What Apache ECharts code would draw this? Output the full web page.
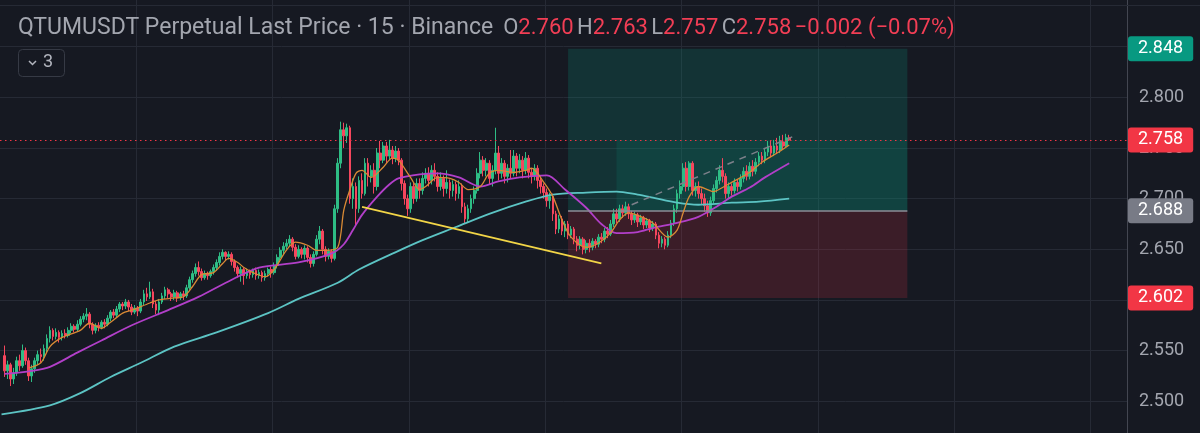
<!DOCTYPE html>
<html>
<head>
<meta charset="utf-8">
<script src="https://cdn.jsdelivr.net/npm/echarts@6/dist/echarts.min.js"></script>
<style>
  html, body { margin: 0; padding: 0; background: #161922; }
  #chart { width: 1200px; height: 433px; }
</style>
</head>
<body>
<div id="chart"></div>
<script>
// 15m candles, [open, close, low, high], first one sits in slot 1
const ohlc = [
  [2.545, 2.530, 2.524, 2.555], [2.530, 2.536, 2.522, 2.540], [2.536, 2.522, 2.515, 2.538], [2.522, 2.528, 2.517, 2.533],
  [2.528, 2.540, 2.525, 2.544], [2.540, 2.535, 2.530, 2.546], [2.535, 2.550, 2.533, 2.556], [2.550, 2.540, 2.536, 2.553],
  [2.540, 2.525, 2.520, 2.543], [2.525, 2.532, 2.519, 2.536], [2.532, 2.540, 2.528, 2.543], [2.540, 2.546, 2.536, 2.550],
  [2.546, 2.544, 2.538, 2.552], [2.544, 2.552, 2.540, 2.556], [2.552, 2.562, 2.548, 2.566], [2.562, 2.570, 2.558, 2.574],
  [2.570, 2.564, 2.560, 2.572], [2.564, 2.568, 2.561, 2.572], [2.568, 2.563, 2.558, 2.570], [2.563, 2.567, 2.560, 2.570],
  [2.567, 2.565, 2.562, 2.571], [2.565, 2.570, 2.563, 2.573], [2.570, 2.574, 2.567, 2.577], [2.574, 2.571, 2.568, 2.576],
  [2.571, 2.576, 2.569, 2.580], [2.576, 2.581, 2.574, 2.584], [2.581, 2.584, 2.578, 2.587], [2.584, 2.586, 2.580, 2.592],
  [2.586, 2.576, 2.572, 2.588], [2.576, 2.570, 2.566, 2.578], [2.570, 2.575, 2.567, 2.577], [2.575, 2.573, 2.569, 2.578],
  [2.573, 2.578, 2.571, 2.580], [2.578, 2.576, 2.572, 2.581], [2.576, 2.582, 2.574, 2.585], [2.582, 2.588, 2.579, 2.590],
  [2.588, 2.585, 2.582, 2.591], [2.585, 2.591, 2.583, 2.594], [2.591, 2.596, 2.588, 2.598], [2.596, 2.594, 2.590, 2.598],
  [2.594, 2.598, 2.591, 2.601], [2.598, 2.593, 2.589, 2.600], [2.593, 2.588, 2.585, 2.596], [2.588, 2.592, 2.586, 2.595],
  [2.592, 2.589, 2.584, 2.594], [2.589, 2.598, 2.587, 2.601], [2.598, 2.606, 2.595, 2.610], [2.606, 2.603, 2.599, 2.612],
  [2.603, 2.608, 2.601, 2.618], [2.608, 2.596, 2.592, 2.611], [2.596, 2.590, 2.586, 2.599], [2.590, 2.598, 2.585, 2.601],
  [2.598, 2.604, 2.596, 2.607], [2.604, 2.610, 2.601, 2.613], [2.610, 2.606, 2.602, 2.612], [2.606, 2.603, 2.599, 2.608],
  [2.603, 2.607, 2.600, 2.610], [2.607, 2.602, 2.598, 2.609], [2.602, 2.606, 2.600, 2.608], [2.606, 2.604, 2.600, 2.609],
  [2.604, 2.612, 2.602, 2.615], [2.612, 2.620, 2.610, 2.623], [2.620, 2.626, 2.617, 2.629], [2.626, 2.632, 2.623, 2.636],
  [2.632, 2.628, 2.624, 2.638], [2.628, 2.622, 2.619, 2.631], [2.622, 2.626, 2.620, 2.629], [2.626, 2.624, 2.620, 2.628],
  [2.624, 2.628, 2.622, 2.630], [2.628, 2.632, 2.625, 2.635], [2.632, 2.637, 2.629, 2.640], [2.637, 2.643, 2.634, 2.647],
  [2.643, 2.647, 2.640, 2.650], [2.647, 2.643, 2.639, 2.648], [2.643, 2.645, 2.640, 2.648], [2.645, 2.638, 2.634, 2.647],
  [2.638, 2.632, 2.628, 2.640], [2.632, 2.626, 2.622, 2.634], [2.626, 2.630, 2.618, 2.633], [2.630, 2.624, 2.615, 2.632],
  [2.624, 2.628, 2.621, 2.631], [2.628, 2.625, 2.621, 2.630], [2.625, 2.629, 2.622, 2.631], [2.629, 2.624, 2.620, 2.632],
  [2.624, 2.627, 2.621, 2.630], [2.627, 2.622, 2.618, 2.629], [2.622, 2.626, 2.619, 2.629], [2.626, 2.630, 2.623, 2.632],
  [2.630, 2.627, 2.622, 2.633], [2.627, 2.634, 2.625, 2.637], [2.634, 2.642, 2.631, 2.645], [2.642, 2.649, 2.639, 2.652],
  [2.649, 2.653, 2.645, 2.657], [2.653, 2.656, 2.650, 2.660], [2.656, 2.660, 2.653, 2.664], [2.660, 2.652, 2.648, 2.662],
  [2.652, 2.643, 2.640, 2.655], [2.643, 2.650, 2.641, 2.654], [2.650, 2.645, 2.641, 2.652], [2.645, 2.651, 2.640, 2.654],
  [2.651, 2.642, 2.637, 2.653], [2.642, 2.636, 2.632, 2.645], [2.636, 2.645, 2.633, 2.648], [2.645, 2.660, 2.643, 2.664],
  [2.660, 2.668, 2.655, 2.673], [2.668, 2.650, 2.645, 2.670], [2.650, 2.643, 2.638, 2.653], [2.643, 2.648, 2.640, 2.651],
  [2.648, 2.641, 2.637, 2.650], [2.641, 2.690, 2.639, 2.694], [2.690, 2.735, 2.686, 2.740], [2.735, 2.768, 2.730, 2.776],
  [2.768, 2.762, 2.750, 2.775], [2.762, 2.770, 2.755, 2.774], [2.770, 2.700, 2.695, 2.772], [2.700, 2.712, 2.690, 2.720],
  [2.712, 2.690, 2.674, 2.716], [2.690, 2.718, 2.686, 2.722], [2.718, 2.705, 2.700, 2.725], [2.705, 2.735, 2.703, 2.740],
  [2.735, 2.722, 2.712, 2.740], [2.722, 2.728, 2.716, 2.733], [2.728, 2.712, 2.705, 2.735], [2.712, 2.745, 2.708, 2.750],
  [2.745, 2.738, 2.730, 2.757], [2.738, 2.752, 2.735, 2.756], [2.752, 2.742, 2.735, 2.756], [2.742, 2.748, 2.738, 2.758],
  [2.748, 2.740, 2.734, 2.752], [2.740, 2.747, 2.736, 2.752], [2.747, 2.738, 2.733, 2.750], [2.738, 2.715, 2.708, 2.740],
  [2.715, 2.700, 2.694, 2.718], [2.700, 2.690, 2.683, 2.704], [2.690, 2.712, 2.686, 2.716], [2.712, 2.700, 2.695, 2.716],
  [2.700, 2.715, 2.697, 2.720], [2.715, 2.708, 2.700, 2.720], [2.708, 2.720, 2.704, 2.726], [2.720, 2.725, 2.715, 2.730],
  [2.725, 2.718, 2.712, 2.731], [2.718, 2.728, 2.714, 2.733], [2.728, 2.722, 2.717, 2.735], [2.722, 2.712, 2.707, 2.726],
  [2.712, 2.720, 2.708, 2.726], [2.720, 2.710, 2.702, 2.723], [2.710, 2.716, 2.705, 2.728], [2.716, 2.708, 2.700, 2.719],
  [2.708, 2.714, 2.702, 2.718], [2.714, 2.705, 2.698, 2.717], [2.705, 2.712, 2.700, 2.718], [2.712, 2.692, 2.686, 2.715],
  [2.692, 2.680, 2.676, 2.696], [2.680, 2.690, 2.676, 2.694], [2.690, 2.700, 2.686, 2.704], [2.700, 2.708, 2.695, 2.712],
  [2.708, 2.725, 2.705, 2.730], [2.725, 2.738, 2.720, 2.746], [2.738, 2.728, 2.722, 2.742], [2.728, 2.735, 2.722, 2.740],
  [2.735, 2.720, 2.714, 2.738], [2.720, 2.728, 2.712, 2.733], [2.728, 2.745, 2.724, 2.770], [2.745, 2.725, 2.718, 2.752],
  [2.725, 2.735, 2.720, 2.740], [2.735, 2.722, 2.715, 2.738], [2.722, 2.730, 2.716, 2.734], [2.730, 2.725, 2.720, 2.748],
  [2.725, 2.742, 2.722, 2.748], [2.742, 2.730, 2.722, 2.745], [2.730, 2.738, 2.725, 2.744], [2.738, 2.728, 2.720, 2.742],
  [2.728, 2.740, 2.724, 2.746], [2.740, 2.726, 2.720, 2.743], [2.726, 2.722, 2.715, 2.730], [2.722, 2.730, 2.718, 2.734],
  [2.730, 2.718, 2.710, 2.733], [2.718, 2.712, 2.705, 2.722], [2.712, 2.706, 2.700, 2.715], [2.706, 2.698, 2.692, 2.710],
  [2.698, 2.702, 2.690, 2.706], [2.702, 2.685, 2.678, 2.705], [2.685, 2.670, 2.665, 2.688], [2.670, 2.680, 2.666, 2.684],
  [2.680, 2.668, 2.664, 2.683], [2.668, 2.675, 2.662, 2.678], [2.675, 2.664, 2.660, 2.678], [2.664, 2.670, 2.661, 2.673],
  [2.670, 2.660, 2.655, 2.672], [2.660, 2.654, 2.648, 2.663], [2.654, 2.660, 2.650, 2.663], [2.660, 2.650, 2.645, 2.662],
  [2.650, 2.656, 2.646, 2.659], [2.656, 2.652, 2.647, 2.660], [2.652, 2.658, 2.649, 2.661], [2.658, 2.655, 2.651, 2.660],
  [2.655, 2.662, 2.652, 2.665], [2.662, 2.660, 2.656, 2.666], [2.660, 2.668, 2.657, 2.671], [2.668, 2.665, 2.661, 2.672],
  [2.665, 2.675, 2.663, 2.679], [2.675, 2.685, 2.672, 2.690], [2.685, 2.680, 2.676, 2.690], [2.680, 2.690, 2.677, 2.694],
  [2.690, 2.686, 2.681, 2.694], [2.686, 2.692, 2.683, 2.697], [2.692, 2.685, 2.680, 2.695], [2.685, 2.679, 2.674, 2.688],
  [2.679, 2.684, 2.676, 2.687], [2.684, 2.677, 2.672, 2.686], [2.677, 2.681, 2.674, 2.684], [2.681, 2.674, 2.670, 2.683],
  [2.674, 2.678, 2.671, 2.681], [2.678, 2.671, 2.667, 2.680], [2.671, 2.675, 2.668, 2.678], [2.675, 2.664, 2.660, 2.677],
  [2.664, 2.656, 2.651, 2.667], [2.656, 2.660, 2.652, 2.663], [2.660, 2.654, 2.650, 2.662], [2.654, 2.664, 2.652, 2.668],
  [2.664, 2.676, 2.661, 2.679], [2.676, 2.690, 2.673, 2.694], [2.690, 2.705, 2.686, 2.709], [2.705, 2.712, 2.700, 2.718],
  [2.712, 2.730, 2.708, 2.735], [2.730, 2.712, 2.707, 2.736], [2.712, 2.735, 2.708, 2.737], [2.735, 2.708, 2.703, 2.737],
  [2.708, 2.712, 2.702, 2.716], [2.712, 2.705, 2.700, 2.717], [2.705, 2.700, 2.694, 2.710], [2.700, 2.693, 2.687, 2.705],
  [2.693, 2.686, 2.682, 2.698], [2.686, 2.698, 2.683, 2.702], [2.698, 2.710, 2.695, 2.714], [2.710, 2.718, 2.706, 2.722],
  [2.718, 2.728, 2.714, 2.733], [2.728, 2.722, 2.716, 2.740], [2.722, 2.705, 2.700, 2.725], [2.705, 2.712, 2.700, 2.716],
  [2.712, 2.708, 2.703, 2.715], [2.708, 2.716, 2.705, 2.720], [2.716, 2.712, 2.707, 2.719], [2.712, 2.720, 2.709, 2.724],
  [2.720, 2.727, 2.716, 2.731], [2.727, 2.722, 2.718, 2.733], [2.722, 2.732, 2.719, 2.736], [2.732, 2.727, 2.722, 2.738],
  [2.727, 2.736, 2.724, 2.740], [2.736, 2.742, 2.732, 2.746], [2.742, 2.738, 2.734, 2.746], [2.738, 2.746, 2.735, 2.750],
  [2.746, 2.752, 2.742, 2.757], [2.752, 2.745, 2.741, 2.757], [2.745, 2.752, 2.742, 2.758], [2.752, 2.748, 2.744, 2.760],
  [2.748, 2.756, 2.745, 2.762], [2.756, 2.752, 2.748, 2.763], [2.752, 2.760, 2.750, 2.764], [2.760, 2.758, 2.757, 2.763]
]

// moving averages as [slot, price]
const maFast = [
  [9, 2.533], [13, 2.538], [16, 2.554], [20, 2.563], [26, 2.570], [29, 2.577], [33, 2.572], [36, 2.578],
  [40, 2.587], [43, 2.590], [49, 2.597], [52, 2.600], [57, 2.602], [60, 2.603], [63, 2.613], [66, 2.625],
  [70, 2.627], [73, 2.636], [75, 2.641], [78, 2.637], [80, 2.632], [83, 2.627], [87, 2.623], [90, 2.630],
  [94, 2.649], [97, 2.657], [101, 2.654], [104, 2.649], [107, 2.649], [111, 2.652], [113, 2.689], [115, 2.709],
  [117, 2.725], [119, 2.728], [122, 2.721], [126, 2.731], [129, 2.740], [131, 2.738], [135, 2.721], [138, 2.709],
  [140, 2.712], [144, 2.721], [148, 2.720], [151, 2.716], [154, 2.709], [158, 2.712], [161, 2.725], [164, 2.728],
  [169, 2.726], [173, 2.728], [175, 2.730], [179, 2.716], [182, 2.702], [185, 2.679], [188, 2.662], [193, 2.652],
  [197, 2.656], [201, 2.666], [204, 2.679], [207, 2.686], [212, 2.681], [215, 2.676], [220, 2.662], [223, 2.669],
  [225, 2.686], [227, 2.702], [230, 2.712], [233, 2.709], [235, 2.707], [238, 2.711], [241, 2.716], [247, 2.726],
  [251, 2.736], [256, 2.745], [260, 2.753]
]
const maMid = [
  [1, 2.527], [10, 2.530], [16, 2.534], [25, 2.548], [33, 2.560], [43, 2.575], [55, 2.590], [65, 2.603],
  [76, 2.620], [85, 2.632], [98, 2.637], [109, 2.646], [113, 2.655], [116, 2.669], [119, 2.684], [124, 2.702],
  [128, 2.714], [131, 2.720], [138, 2.724], [144, 2.725], [151, 2.721], [158, 2.712], [164, 2.717], [171, 2.721],
  [180, 2.723], [186, 2.709], [193, 2.691], [198, 2.675], [203, 2.666], [210, 2.667], [215, 2.671], [223, 2.676],
  [230, 2.682], [236, 2.692], [241, 2.702], [247, 2.711], [252, 2.721], [260, 2.735]
]
const maSlow = [
  [0, 2.487], [16, 2.496], [26, 2.508], [36, 2.524], [46, 2.538], [57, 2.554], [71, 2.568], [88, 2.587],
  [98, 2.601], [111, 2.617], [118, 2.630], [130, 2.647], [139, 2.659], [150, 2.672], [161, 2.685], [173, 2.697],
  [182, 2.704], [193, 2.706], [203, 2.707], [210, 2.704], [215, 2.701], [223, 2.696], [230, 2.694], [241, 2.696],
  [250, 2.697], [260, 2.700]
]

// drawings
const supportLine = [[119, 2.692], [198, 2.636]]
const channelLine = [[208, 2.694], [261, 2.761]]
const lastPrice = 2.758
const entryPrice = 2.688
const targetPrice = 2.848
const stopPrice = 2.602
const positionSlots = [187, 299]
const profitStartSlot = 203

const slotCount = 372
const categories = Array.from({ length: slotCount }, (_, i) => 'k' + i)

const upColor = '#2ebd85'
const downColor = '#f6465d'
const gridColor = '#262a35'

let mychart = echarts.init(document.getElementById('chart'))
mychart.setOption({
  animation: false,
  backgroundColor: '#161922',
  textStyle: { fontFamily: 'Roboto' },
  grid: { left: 0, right: 73, top: -3.95, height: 455.85, outerBoundsMode: 'none', containLabel: false },
  xAxis: {
    type: 'category',
    data: categories,
    boundaryGap: true,
    axisLine: { show: false },
    axisTick: { show: false },
    axisLabel: { show: false },
    splitLine: {
      show: true,
      interval: (index) => index > 0 && index % 45 === 0,
      lineStyle: { color: gridColor, width: 1 }
    }
  },
  yAxis: {
    type: 'value',
    position: 'right',
    min: 2.45,
    max: 2.9,
    interval: 0.05,
    axisLine: { show: true, lineStyle: { color: '#434651' } },
    axisTick: { show: false },
    axisLabel: {
      color: '#a3a6af',
      fontSize: 18,
      margin: 12,
      showMinLabel: false,
      showMaxLabel: false,
      formatter: (v) => v.toFixed(3)
    },
    splitLine: { lineStyle: { color: gridColor, width: 1 } }
  },
  series: [
    {
      // long position tool
      name: 'position',
      type: 'line',
      data: [],
      z: 1,
      silent: true,
      markArea: {
        silent: true,
        data: [
          [{ xAxis: positionSlots[0], yAxis: entryPrice, itemStyle: { color: 'rgba(8, 153, 129, 0.2)' } }, { xAxis: positionSlots[1], yAxis: targetPrice }],
          [{ xAxis: profitStartSlot, yAxis: entryPrice, itemStyle: { color: 'rgba(8, 153, 129, 0.15)' } }, { xAxis: positionSlots[1], yAxis: lastPrice }],
          [{ xAxis: positionSlots[0], yAxis: stopPrice, itemStyle: { color: 'rgba(242, 54, 69, 0.17)' } }, { xAxis: positionSlots[1], yAxis: entryPrice }]
        ]
      },
      markLine: {
        silent: true,
        symbol: 'none',
        precision: 3,
        data: [
          [{ coord: [positionSlots[0], entryPrice] }, { coord: [positionSlots[1], entryPrice] }]
        ],
        lineStyle: { color: '#8b8e97', type: 'solid', width: 1.5 },
        label: { show: false }
      }
    },
    {
      name: 'candles',
      type: 'candlestick',
      data: ['-'].concat(ohlc),
      barWidth: '75%',
      z: 3,
      itemStyle: {
        color: upColor,
        color0: downColor,
        borderColor: upColor,
        borderColor0: downColor,
        borderWidth: 1
      }
    },
    {
      name: 'ma-slow',
      type: 'line',
      data: maSlow,
      smooth: 0.3,
      showSymbol: false,
      z: 4,
      lineStyle: { color: '#5cc4c4', width: 1.8 }
    },
    {
      name: 'ma-mid',
      type: 'line',
      data: maMid,
      smooth: 0.3,
      showSymbol: false,
      z: 4,
      lineStyle: { color: '#b23fc9', width: 1.8 }
    },
    {
      name: 'ma-fast',
      type: 'line',
      data: maFast,
      smooth: 0.3,
      showSymbol: false,
      z: 5,
      lineStyle: { color: '#d98a35', width: 1.3 }
    },
    {
      name: 'support',
      type: 'line',
      data: supportLine,
      showSymbol: false,
      z: 6,
      lineStyle: { color: '#f2d547', width: 1.8 }
    },
    {
      name: 'channel',
      type: 'line',
      data: channelLine,
      showSymbol: false,
      z: 6,
      lineStyle: { color: '#7d808a', width: 1.5, type: [7, 6] }
    },
    {
      // price badges on the right scale
      name: 'badges',
      type: 'line',
      data: [],
      z: 10,
      markLine: {
        silent: true,
        symbol: 'none',
        precision: 3,
        label: {
          position: 'end',
          distance: 1,
          color: '#ffffff',
          fontSize: 18,
          padding: [4, 10, 3, 10],
          borderRadius: 3,
          formatter: (p) => Number(p.value).toFixed(3)
        },
        data: [
          { yAxis: targetPrice, lineStyle: { width: 0, color: 'transparent' }, label: { backgroundColor: '#089981' } },
          { yAxis: entryPrice, lineStyle: { width: 0, color: 'transparent' }, label: { backgroundColor: '#787b86' } },
          { yAxis: stopPrice, lineStyle: { width: 0, color: 'transparent' }, label: { backgroundColor: '#f23645' } },
          { yAxis: lastPrice, lineStyle: { color: '#f23645', type: [1.5, 3.5], width: 1 }, label: { backgroundColor: '#f23645' } }
        ]
      }
    }
  ],
  graphic: [
    { type: 'line', shape: { x1: 0, y1: 5.5, x2: 1200, y2: 5.5 }, style: { stroke: gridColor, lineWidth: 1 }, z: 20 },
    {
      type: 'text',
      left: 18,
      top: 17,
      z: 20,
      style: {
        text: '{t|QTUMUSDT Perpetual Last Price · 15 · Binance}   {k|O}{v|2.760} {k|H}{v|2.763} {k|L}{v|2.757} {k|C}{v|2.758} {v|−0.002 (−0.07%)}',
        rich: {
          t: { fill: '#a3a6af', fontSize: 23, fontFamily: 'Roboto' },
          k: { fill: '#a3a6af', fontSize: 22, fontFamily: 'Roboto' },
          v: { fill: '#f23e55', fontSize: 22, fontFamily: 'Roboto' }
        }
      }
    },
    { type: 'rect', z: 20, shape: { x: 18.5, y: 49.5, width: 46, height: 27, r: 4 }, style: { fill: 'transparent', stroke: '#363a45', lineWidth: 1 } },
    { type: 'polyline', z: 20, shape: { points: [[29, 61], [32.5, 64.5], [36, 61]] }, style: { stroke: '#b2b5be', lineWidth: 1.5, fill: null } },
    { type: 'text', z: 20, x: 43, y: 53, style: { text: '3', fill: '#b2b5be', font: '18px Roboto' } }
  ]
})
</script>
</body>
</html>
